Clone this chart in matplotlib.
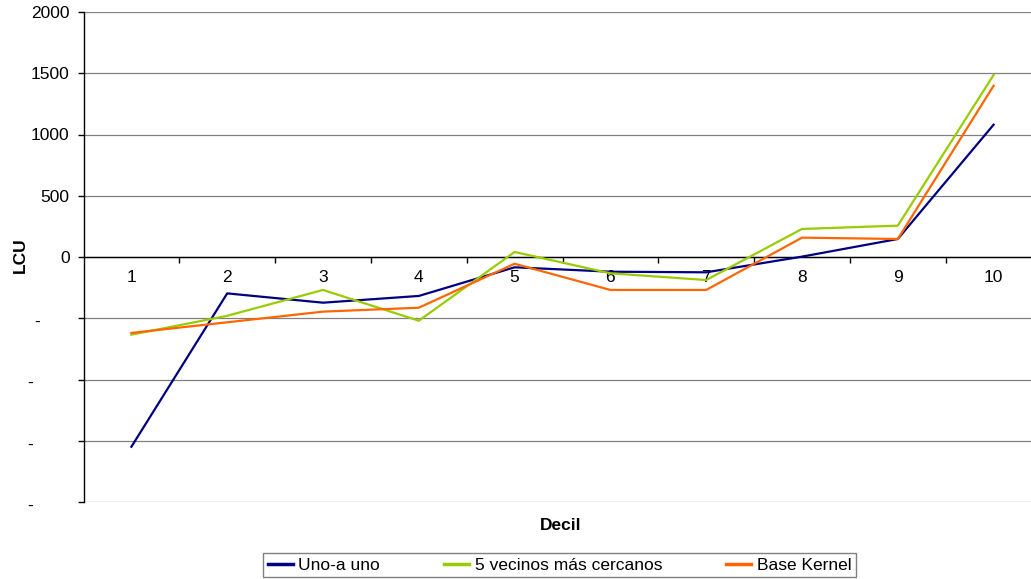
import numpy as np
import matplotlib.pyplot as plt
from matplotlib.ticker import FixedLocator, FuncFormatter

plt.rcParams['font.family'] = ['Liberation Sans', 'DejaVu Sans']

# Deciles and the three matching estimators (LCU)
deciles = [1, 2, 3, 4, 5, 6, 7, 8, 9, 10]
uno_a_uno = [-1549, -297, -373, -318, -84, -120, -125, 3, 147, 1080]
vecinos_5 = [-634, -480, -269, -520, 41, -133, -188, 229, 256, 1486]
base_kernel = [-620, -533, -446, -414, -55, -269, -269, 158, 147, 1398]

series = [
    ('Uno-a uno', uno_a_uno, '#000080'),
    ('5 vecinos más cercanos', vecinos_5, '#99CC00'),
    ('Base Kernel', base_kernel, '#FF6600'),
]

yticks = [-2000, -1500, -1000, -500, 0, 500, 1000, 1500, 2000]
fs = 12.5

fig = plt.figure(figsize=(10.31, 5.79), dpi=100)
# el eje derecho queda fuera del lienzo, como en la hoja original
ax = fig.add_axes([83.5 / 1031, 77 / 579, 958 / 1031, 490 / 579])

for nombre, valores, color in series:
    ax.plot(deciles, valores, color=color, lw=1.6, label=nombre, zorder=3)

ax.set_xlim(0.5, 10.5)
ax.set_ylim(-2000, 2000)

# rejilla horizontal
ax.yaxis.set_major_locator(FixedLocator(yticks))
ax.yaxis.grid(True, color='#808080', lw=0.9)
ax.set_axisbelow(True)

# eje de categorias cruzando en cero
ax.spines['bottom'].set_position(('data', 0))
ax.spines['top'].set_visible(False)
ax.spines['right'].set_visible(False)
ax.spines['left'].set_color('black')
ax.spines['bottom'].set_color('black')
ax.spines['left'].set_linewidth(1.0)
ax.spines['bottom'].set_linewidth(1.0)

ax.set_xticks(deciles)
ax.set_xticklabels([str(d) for d in deciles], fontsize=fs)
ax.tick_params(axis='x', which='major', length=0, pad=9)
ax.set_xticks(np.arange(1.5, 10.5, 1.0), minor=True)
ax.tick_params(axis='x', which='minor', length=4, width=1.0, direction='out')

# los negativos salen como guion (formato de la hoja)
ax.yaxis.set_major_formatter(FuncFormatter(lambda v, p: f'{v:.0f}' if v >= 0 else ''))
ax.tick_params(axis='y', length=4, width=1.0, pad=6, labelsize=fs)
for v in yticks:
    if v < 0:
        xpos = -0.048 if v == -500 else -0.056
        ax.annotate('-', xy=(xpos, v), xycoords=ax.get_yaxis_transform(),
                    xytext=(0, -3), textcoords='offset points',
                    ha='center', va='center', fontsize=fs, annotation_clip=False)

fig.text(20 / 1031, 1 - 255 / 579, 'LCU', rotation=90, ha='center', va='center',
         fontsize=fs, fontweight='bold')
fig.text(561 / 1031, 1 - 526 / 579, 'Decil', ha='center', va='center',
         fontsize=fs, fontweight='bold')

leg = fig.legend(loc='center', bbox_to_anchor=(559.5 / 1031, 1 - 565 / 579), ncol=3,
                 fontsize=fs, frameon=True, fancybox=False, edgecolor='#606060',
                 handlelength=1.45, handletextpad=0.3, columnspacing=3.7,
                 borderpad=0.25, borderaxespad=0)
leg.get_frame().set_linewidth(1.0)
for line in leg.get_lines():
    line.set_linewidth(2.5)

fig.savefig('out.png', dpi=100)
